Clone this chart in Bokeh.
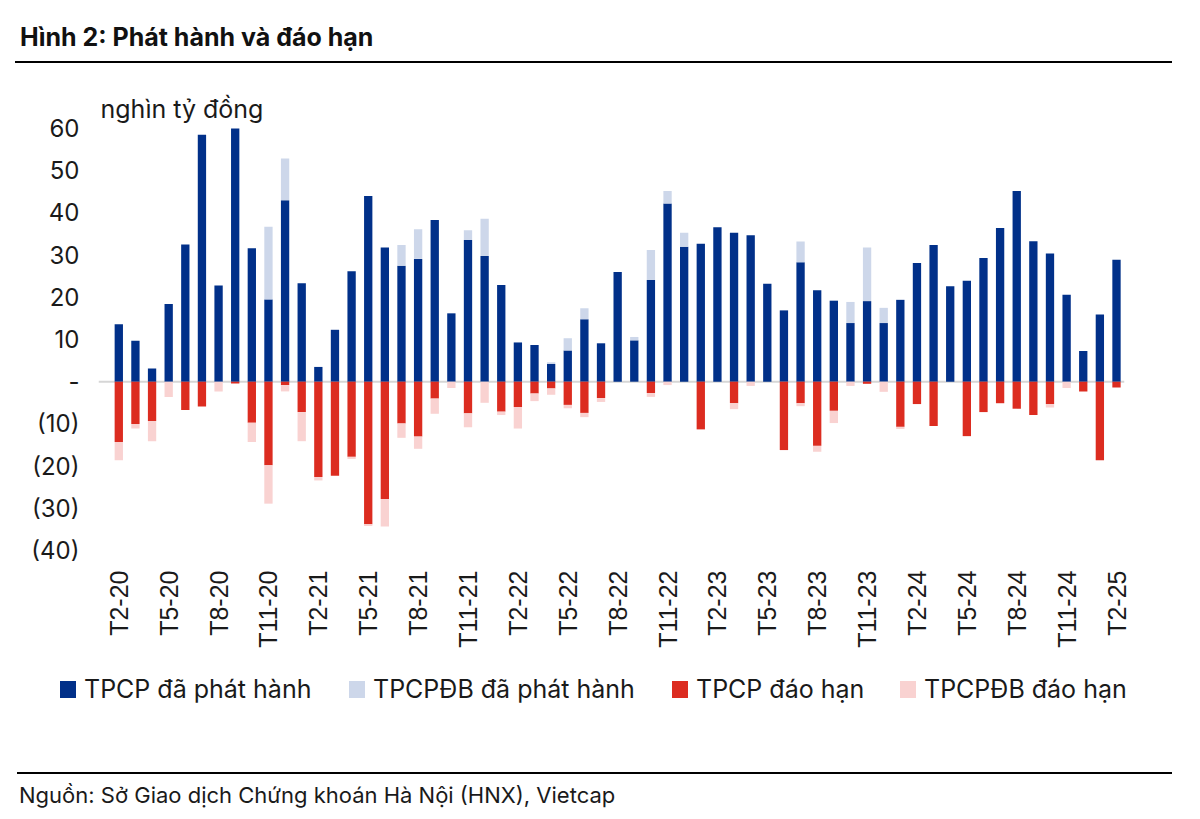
from math import pi
from bokeh.plotting import figure
from bokeh.layouts import column
from bokeh.models import (ColumnDataSource, FixedTicker, Span, Label, Range1d, Div)
from bokeh.embed import file_html
from bokeh.resources import INLINE

# ---------------- data (nghìn tỷ đồng), monthly T2-20 .. T2-25 ----------------
tick_labels = ["T2-20", "T5-20", "T8-20", "T11-20", "T2-21", "T5-21", "T8-21", "T11-21",
               "T2-22", "T5-22", "T8-22", "T11-22", "T2-23", "T5-23", "T8-23", "T11-23",
               "T2-24", "T5-24", "T8-24", "T11-24", "T2-25"]

tpcp_phat_hanh = [13.6, 9.7, 3.1, 18.4, 32.5, 58.5, 22.8, 60.0, 31.6, 19.5,
                  43.0, 23.3, 3.5, 12.3, 26.2, 44.0, 31.8, 27.5, 29.1, 38.3,
                  16.2, 33.6, 29.8, 22.9, 9.3, 8.7, 4.2, 7.4, 14.8, 9.1,
                  26.0, 9.8, 24.1, 42.2, 32.0, 32.7, 36.6, 35.3, 34.7, 23.2,
                  16.9, 28.3, 21.7, 19.2, 13.9, 19.1, 13.9, 19.4, 28.1, 32.4,
                  22.6, 23.9, 29.3, 36.4, 45.2, 33.3, 30.4, 20.6, 7.3, 15.9, 28.9]

tpcpdb_phat_hanh = [0, 0, 0, 0, 0, 0, 0, 0, 0, 17.2,
                    9.9, 0, 0, 0, 0, 0, 0, 4.9, 7.0, 0,
                    0, 2.3, 8.8, 0, 0, 0, 0.4, 2.9, 2.6, 0,
                    0, 0.8, 7.1, 3.0, 3.3, 0, 0, 0, 0, 0,
                    0, 4.9, 0, 0, 5.0, 12.7, 3.6, 0, 0, 0,
                    0, 0, 0, 0, 0, 0, 0, 0, 0, 0, 0]

tpcp_dao_han = [-14.3, -10.0, -9.3, 0, -6.7, -5.9, 0, -0.4, -9.7, -19.8,
                -0.8, -7.2, -22.6, -22.3, -17.8, -33.8, -27.8, -9.9, -13.0, -4.0,
                0, -7.5, 0, -7.1, -6.0, -2.8, -1.6, -5.5, -7.4, -3.9,
                0, 0, -2.7, 0, 0, -11.3, 0, -5.1, 0, 0,
                -16.2, -5.1, -15.2, -6.9, 0, -0.5, 0, -10.7, -5.3, -10.5,
                0, -12.9, -7.2, -5.1, -6.4, -7.9, -5.3, 0, -2.3, -18.6, -1.4]

tpcpdb_dao_han = [-4.3, -1.1, -4.8, -3.6, 0, 0, -2.3, 0, -4.6, -9.1,
                  -1.5, -6.9, -0.8, 0, -0.5, -0.4, -6.5, -3.4, -2.9, -3.6,
                  -1.5, -3.3, -5.0, -0.8, -5.1, -1.8, -1.5, -0.8, -1.0, -0.9,
                  0, 0, -0.9, -0.8, 0, 0, 0, -1.4, -1.0, 0,
                  0, -0.7, -1.4, -2.9, -1.0, 0, -2.4, -0.5, 0, 0,
                  0, 0, 0, 0, 0, 0, -0.8, -1.5, 0, 0, 0]

series_names = ["TPCP đã phát hành", "TPCPĐB đã phát hành", "TPCP đáo hạn", "TPCPĐB đáo hạn"]
y_ticks = [-40, -30, -20, -10, 0, 10, 20, 30, 40, 50, 60]
title_text = "Hình 2: Phát hành và đáo hạn"
unit_text = "nghìn tỷ đồng"
source_text = "Nguồn: Sở Giao dịch Chứng khoán Hà Nội (HNX), Vietcap"

# ---------------- styling / layout ----------------
C_DARK = "#013089"
C_LIGHT = "#cdd7ea"
C_RED = "#dc2c20"
C_PINK = "#f9d2d1"
C_TEXT = "#1a1a1a"
FONT = "Inter"
COLORS = [C_DARK, C_LIGHT, C_RED, C_PINK]

W = 1190
H_HEAD, H_MAIN, H_FOOT = 92, 578, 141
F_LEFT, F_RIGHT, F_TOP, F_BOTTOM = 98, 1124, 92, 550   # main frame, page pixels
FIRST_BAR_PX, LAST_BAR_PX = 118.3, 1116.0
Y_TOP_PX, Y_BOT_PX = 128.0, 550.0  # pixel rows of 60 and -40
LEG_SWATCH_X = [60, 349, 672, 900]  # legend item positions (page px)

n = len(tpcp_phat_hanh)
px_x = (LAST_BAR_PX - FIRST_BAR_PX) / (n - 1)
px_y = (Y_BOT_PX - Y_TOP_PX) / (y_ticks[-1] - y_ticks[0])
x_lo = (F_LEFT - FIRST_BAR_PX) / px_x
x_hi = (F_RIGHT - FIRST_BAR_PX) / px_x
y_hi = y_ticks[-1] + (Y_TOP_PX - F_TOP) / px_y
y_lo = y_ticks[0] - (F_BOTTOM - Y_BOT_PX) / px_y

# ---------------- header ----------------
head = Div(width=W, height=H_HEAD, margin=0, text=(
    f'<div style="position:relative;width:{W}px;height:{H_HEAD}px;">'
    f'<div style="position:absolute;left:20px;top:22px;font-family:{FONT};font-size:25px;'
    f'font-weight:bold;line-height:30px;color:#111;white-space:nowrap;">{title_text}</div>'
    f'<div style="position:absolute;left:15px;top:61px;width:1157px;height:2px;background:#000;"></div>'
    f'</div>'))

# ---------------- main chart ----------------
src = ColumnDataSource(dict(
    x=list(range(n)),
    tpcp=tpcp_phat_hanh,
    tpcpdb=tpcpdb_phat_hanh,
    dh=tpcp_dao_han,
    dbdh=tpcpdb_dao_han,
))

p = figure(width=W, height=H_MAIN, output_backend="svg", toolbar_location=None,
           x_range=Range1d(x_lo, x_hi), y_range=Range1d(y_lo, y_hi),
           min_border_left=F_LEFT, min_border_right=W - F_RIGHT,
           min_border_top=F_TOP - H_HEAD, min_border_bottom=H_HEAD + H_MAIN - F_BOTTOM)
p.title.visible = False
p.outline_line_color = None
p.grid.visible = False

p.add_layout(Span(location=0, dimension="width", line_color="#d6d6d6", line_width=2,
                  level="underlay"))

p.vbar_stack(["tpcp", "tpcpdb"], x="x", width=0.5, color=[C_DARK, C_LIGHT],
             line_color=None, source=src)
p.vbar_stack(["dh", "dbdh"], x="x", width=0.5, color=[C_RED, C_PINK],
             line_color=None, source=src)

p.xaxis.ticker = FixedTicker(ticks=list(range(0, n, 3)))
p.xaxis.major_label_overrides = {i * 3: lab for i, lab in enumerate(tick_labels)}
p.xaxis.major_label_orientation = pi / 2
p.xaxis.axis_line_color = None
p.xaxis.major_tick_line_color = None
p.xaxis.minor_tick_line_color = None
p.xaxis.major_label_standoff = 14
p.xaxis.major_label_text_font = "Liberation Sans"
p.xaxis.major_label_text_font_size = "25px"
p.xaxis.major_label_text_color = C_TEXT

p.yaxis.ticker = FixedTicker(ticks=y_ticks)
p.yaxis.major_label_overrides = {t: ("-" if t == 0 else (f"({-t})" if t < 0 else str(t)))
                                 for t in y_ticks}
p.yaxis.axis_line_color = None
p.yaxis.major_tick_line_color = None
p.yaxis.minor_tick_line_color = None
p.yaxis.major_label_standoff = 13
p.yaxis.major_label_text_font = FONT
p.yaxis.major_label_text_font_size = "24px"
p.yaxis.major_label_text_color = C_TEXT

p.add_layout(Label(x=100 - F_LEFT, y=F_BOTTOM - 108, x_units="screen", y_units="screen",
                   text=unit_text, text_font=FONT, text_font_size="25px",
                   text_color=C_TEXT, text_baseline="middle"))

# ---------------- footer: legend, rule, source ----------------
top_f = H_HEAD + H_MAIN
leg_html = ""
for sx, name, col in zip(LEG_SWATCH_X, series_names, COLORS):
    leg_html += (f'<div style="position:absolute;left:{sx}px;top:{681 - top_f}px;width:16px;'
                 f'height:17px;background:{col};"></div>'
                 f'<div style="position:absolute;left:{sx + 24}px;top:{689 - top_f - 15}px;'
                 f'font-family:{FONT};font-size:25px;line-height:30px;color:{C_TEXT};'
                 f'white-space:nowrap;">{name}</div>')

foot = Div(width=W, height=H_FOOT, margin=0, text=(
    f'<div style="position:relative;width:{W}px;height:{H_FOOT}px;">'
    + leg_html +
    f'<div style="position:absolute;left:17px;top:{772 - top_f}px;width:1155px;height:2px;background:#000;"></div>'
    f'<div style="position:absolute;left:19px;top:{795 - top_f - 13}px;font-family:{FONT};'
    f'font-size:22px;line-height:26px;color:{C_TEXT};white-space:nowrap;">{source_text}</div>'
    f'</div>'))

layout = column(head, p, foot, spacing=0)
open("out.html", "w").write(file_html(layout, INLINE))
